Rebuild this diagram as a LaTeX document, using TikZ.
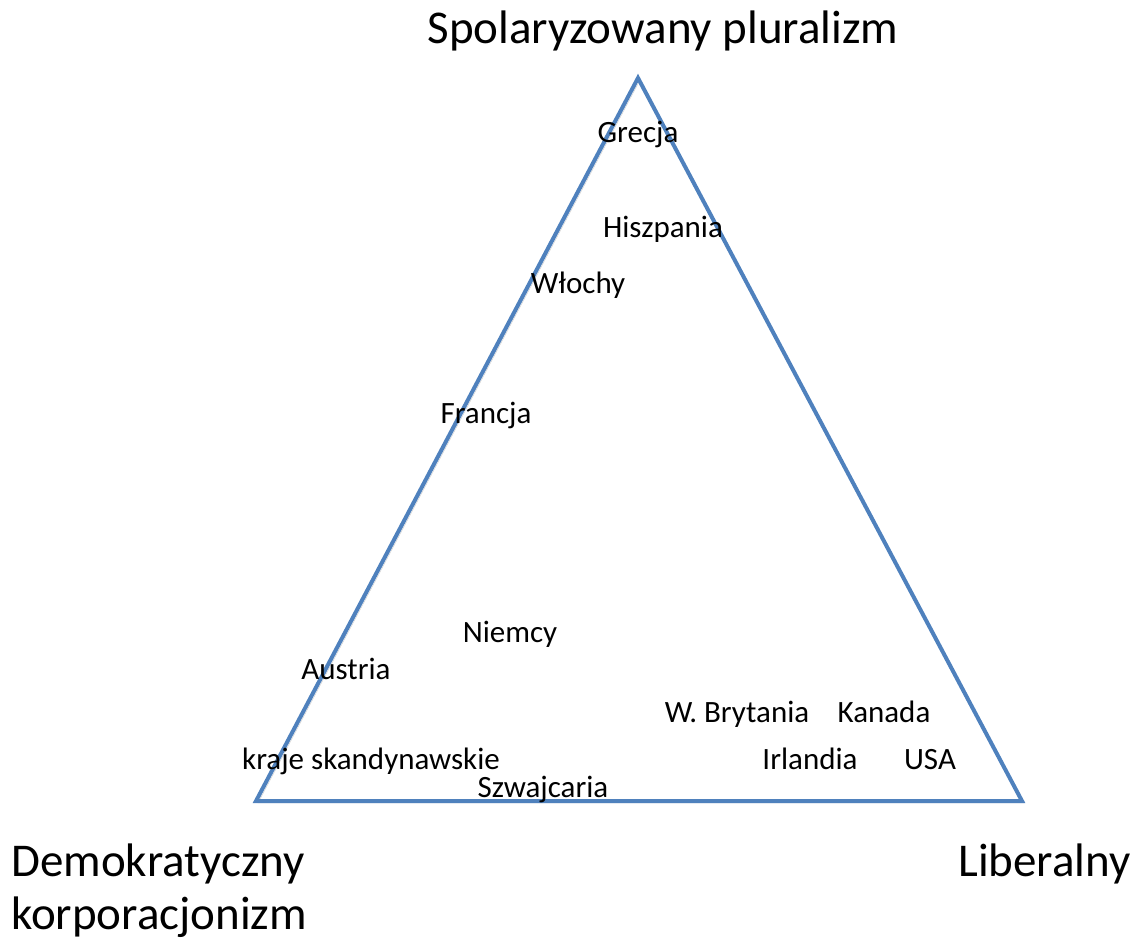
\documentclass[tikz,border=0pt]{standalone}
\usepackage{fontspec}
\setmainfont{Carlito}
\usetikzlibrary{shadows}
\definecolor{triblue}{HTML}{4F81BD}
\begin{document}
\begin{tikzpicture}[x=1pt,y=-1pt,
  lbl/.style={inner sep=0pt,anchor=base,font=\fontsize{31}{37}\selectfont},
  big/.style={inner sep=0pt,font=\fontsize{47}{55}\selectfont}]
\useasboundingbox (0,0) rectangle (1136,943);
\coordinate (T) at (638,78);
\coordinate (L) at (256,801);
\coordinate (R) at (1022,801);
\draw[triblue,line width=4pt,line join=miter,
  drop shadow={shadow xshift=2pt,shadow yshift=-2pt,opacity=0.2,fill=none,draw=black}]
  (T) -- (L) -- (R) -- cycle;
\node[big,anchor=base] (title) at (663,43) {Spolaryzowany pluralizm};
\node[big,anchor=base west] (dk1) at (11,876) {Demokratyczny};
\node[big,anchor=base west] (dk2) at (11,929) {korporacjonizm};
\node[big,anchor=base east] (lib) at (1131,876) {Liberalny};
\node[lbl] (gr) at (638,142) {Grecja};
\node[lbl] (hi) at (663,237) {Hiszpania};
\node[lbl] (wl) at (578,293) {Włochy};
\node[lbl] (fr) at (486,423) {Francja};
\node[lbl] (ni) at (510,642) {Niemcy};
\node[lbl] (au) at (346,679) {Austria};
\node[lbl] (wb) at (737,722) {W. Brytania};
\node[lbl] (ka) at (884,722) {Kanada};
\node[lbl] (ks) at (371,769) {kraje skandynawskie};
\node[lbl] (ir) at (810,769) {Irlandia};
\node[lbl] (us) at (930,769) {USA};
\node[lbl] (sz) at (543,797) {Szwajcaria};
\end{tikzpicture}
\end{document}
